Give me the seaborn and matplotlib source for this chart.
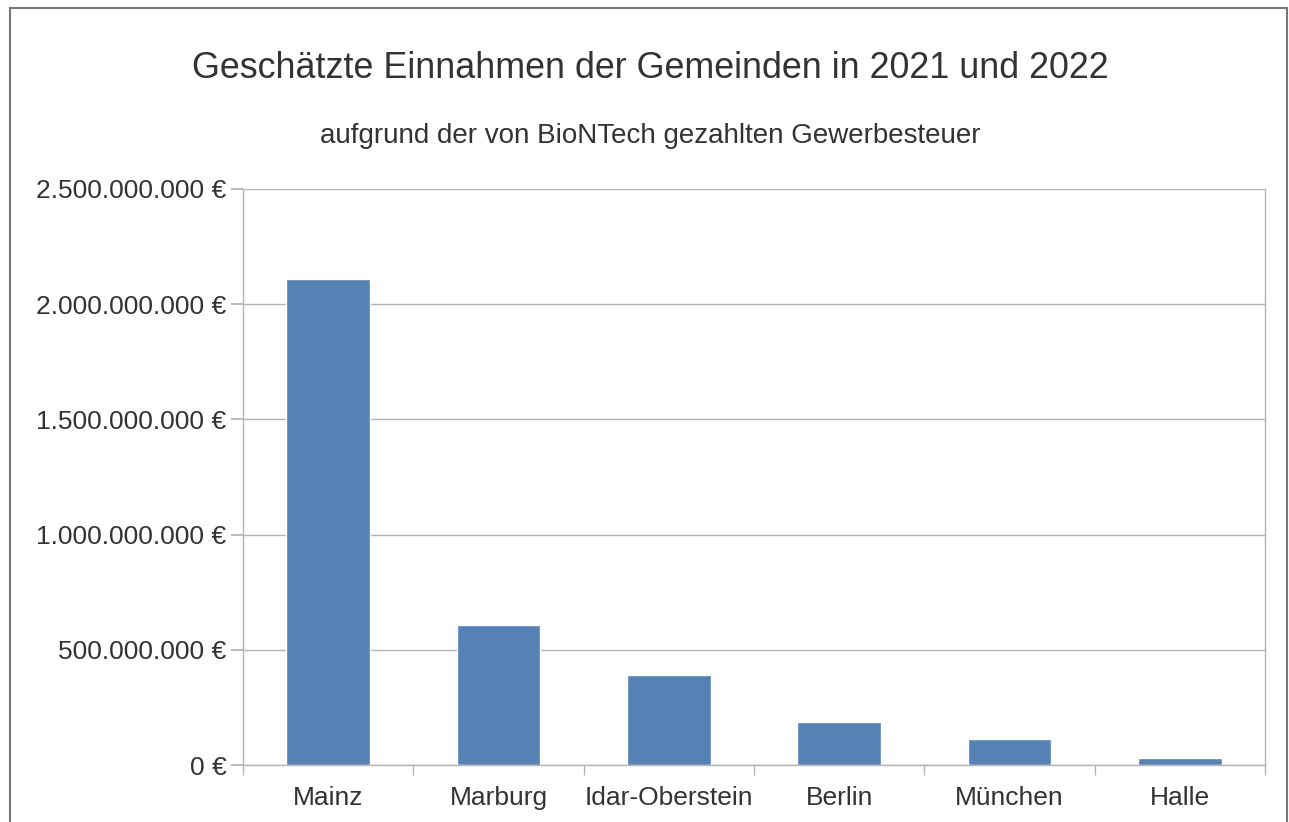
import matplotlib
matplotlib.use("Agg")
import matplotlib.pyplot as plt
import matplotlib.ticker as mticker
import matplotlib.patches as mpatches
import pandas as pd
import seaborn as sns

# Daten
gemeinden = ["Mainz", "Marburg", "Idar-Oberstein", "Berlin", "München", "Halle"]
einnahmen = [2_110_000_000, 607_000_000, 390_000_000, 185_000_000, 112_000_000, 30_000_000]

df = pd.DataFrame({"Gemeinde": gemeinden, "Einnahmen": einnahmen})

sns.set_theme(style="white")
plt.rcParams["font.family"] = ["Liberation Sans", "DejaVu Sans"]

GRID = "#b3b3b3"
TXT = "#333333"

fig = plt.figure(figsize=(12.89, 8.22), dpi=100)
ax = fig.add_axes([243 / 1289, 1 - 765 / 822, (1265 - 243) / 1289, (765 - 189) / 822])

sns.barplot(data=df, x="Gemeinde", y="Einnahmen", color="#5581b4",
            saturation=1, width=0.49, ax=ax)

ax.set_ylim(0, 2_500_000_000)
ax.set_xlim(-0.5, len(gemeinden) - 0.5)
ax.yaxis.set_major_locator(mticker.MultipleLocator(500_000_000))
ax.yaxis.set_major_formatter(
    mticker.FuncFormatter(lambda v, _: f"{v:,.0f} €".replace(",", "."))
)
ax.grid(axis="y", color=GRID, linewidth=1)
ax.set_axisbelow(True)

for s in ["left", "right", "bottom"]:
    ax.spines[s].set_color(GRID)
    ax.spines[s].set_linewidth(1)
ax.spines["top"].set_visible(False)

# Tickmarken zwischen den Kategorien
ax.set_xticks([i - 0.5 for i in range(len(gemeinden) + 1)], minor=True)
ax.tick_params(axis="x", which="major", length=0, labelsize=19, labelcolor=TXT, pad=15)
ax.tick_params(axis="x", which="minor", length=7, color=GRID, direction="out", bottom=True)
ax.tick_params(axis="y", which="major", length=9, color=GRID, direction="out", left=True,
               labelsize=19, labelcolor=TXT, pad=3)
ax.set_xlabel("")
ax.set_ylabel("")

fig.text(650 / 1289, 1 - 68 / 822, "Geschätzte Einnahmen der Gemeinden in 2021 und 2022",
         ha="center", va="center", fontsize=25.8, color=TXT)
fig.text(650 / 1289, 1 - 136 / 822, "aufgrund der von BioNTech gezahlten Gewerbesteuer",
         ha="center", va="center", fontsize=20, color=TXT)

# Rahmen um die Grafik
fig.patches.append(mpatches.Rectangle((10 / 1289, -0.01), 1277 / 1289, 1 - 8 / 822 + 0.01,
                                      transform=fig.transFigure, fill=False,
                                      edgecolor="#777777", linewidth=1.5))

fig.savefig("out.png", dpi=100)
